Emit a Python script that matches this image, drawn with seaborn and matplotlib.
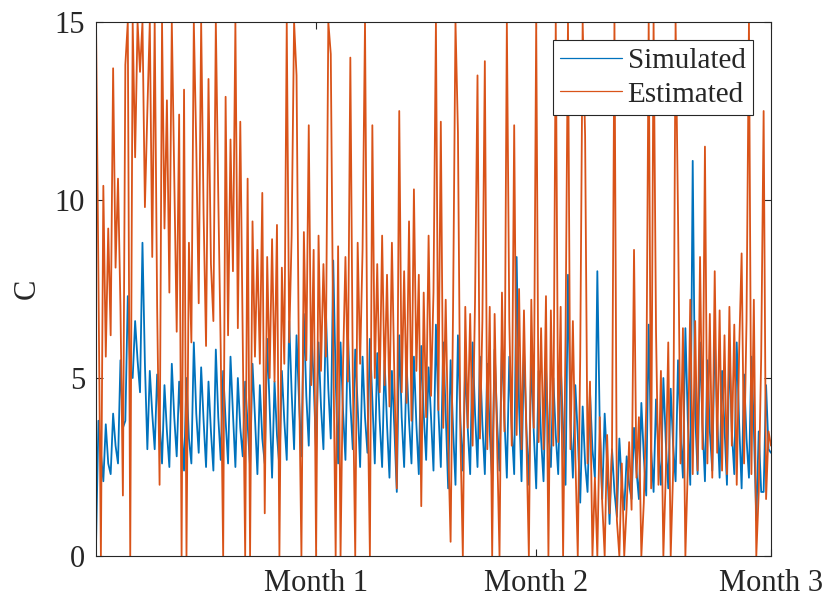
import matplotlib
matplotlib.use("Agg")
import matplotlib.pyplot as plt
import numpy as np
import pandas as pd
import seaborn as sns

# Three samples per day (trough / peak / mid)
SAMPLES_PER_DAY = 3

simulated = [
    0.3, 3.8, 2.9,  2.1, 3.7, 2.6,  2.3, 4.0, 3.1,  2.6, 5.5, 3.6,
    3.8, 7.3, 5.2,  5.0, 6.6, 5.5,  4.6, 8.8, 5.4,  3.0, 5.2, 4.0,
    3.0, 5.1, 3.8,  2.6, 4.8, 3.5,  2.5, 5.4, 3.9,  2.8, 4.9, 3.6,
    2.4, 5.0, 3.3,  2.6, 6.0, 4.0,  2.9, 5.3, 3.8,  2.5, 4.9, 3.5,
    2.4, 5.8, 3.9,  2.7, 5.2, 3.8,  2.6, 5.6, 4.0,  2.5, 5.0, 3.6,
    2.8, 4.9, 3.7,  2.5, 5.4, 3.9,  2.3, 4.8, 3.3,  2.6, 6.1, 4.2,
    2.2, 4.9, 3.4,  2.5, 5.2, 3.8,  2.7, 6.6, 4.6,  3.0, 6.2, 4.4,
    2.8, 6.8, 4.5,  3.1, 6.4, 4.9,  2.9, 6.0, 4.2,  3.0, 6.9, 4.7,
    3.3, 8.3, 5.0,  2.6, 6.0, 4.1,  2.7, 6.3, 4.3,  3.0, 5.8, 4.2,
    2.5, 5.6, 3.9,  2.9, 6.1, 4.4,  2.6, 5.7, 3.8,  2.5, 5.5, 3.7,
    2.2, 5.2, 3.6,  1.8, 6.2, 3.9,  2.5, 5.4, 3.8,  2.6, 5.6, 3.7,
    2.3, 5.9, 4.0,  2.7, 5.3, 3.9,  2.4, 6.5, 4.1,  2.5, 6.0, 4.0,
    1.9, 5.5, 3.6,  2.0, 6.2, 3.8,  2.4, 5.4, 3.6,  2.3, 6.0, 4.0,
    2.5, 5.6, 3.7,  2.3, 5.4, 3.5,  2.1, 5.8, 3.8,  2.4, 6.0, 3.9,
    2.2, 5.6, 3.6,  2.3, 8.4, 4.2,  2.1, 5.8, 3.6,  2.0, 5.6, 3.5,
    1.9, 5.2, 3.3,  2.1, 5.3, 3.4,  2.5, 5.0, 3.4,  2.3, 5.4, 3.6,
    2.0, 7.9, 3.8,  2.2, 4.8, 3.4,  1.5, 4.2, 2.6,  1.8, 4.6, 3.0,
    2.2, 8.0, 3.6,  1.6, 4.0, 2.6,  0.9, 3.0, 1.8,  1.1, 3.3, 2.0,
    1.3, 2.8, 2.0,  1.6, 3.6, 2.4,  1.6, 4.3, 2.8,  1.7, 6.5, 3.0,
    1.8, 4.4, 2.9,  2.0, 5.0, 3.2,  1.9, 4.7, 3.1,  2.1, 5.5, 3.5,
    2.2, 6.4, 3.8,  2.0, 11.1, 4.0, 2.3, 6.0, 3.7,  2.1, 5.5, 3.5,
    2.4, 6.2, 3.9,  2.2, 5.2, 3.6,  2.0, 5.8, 3.5,  2.3, 6.0, 3.7,
    1.9, 5.1, 3.3,  2.2, 5.6, 3.6,  1.0, 3.5, 1.8,  1.8, 4.8, 3.0,
    2.9,
]

estimated = [
    15.0, 7.8, 0.0,   10.4, 5.6, 9.2,   6.2, 13.7, 8.1,   10.6, 7.0, 1.7,
    13.8, 15.0, 0.0,  15.0, 11.2, 15.0, 13.6, 15.0, 9.8,  12.5, 15.0, 8.4,
    15.0, 7.0, 2.0,   15.0, 9.2, 12.8,  7.4, 15.0, 10.6,  6.3, 12.4, 0.0,
    13.1, 0.0, 8.8,   6.0, 15.0, 11.5,  7.1, 15.0, 9.6,   5.9, 13.4, 8.2,
    6.6, 15.0, 10.1,  5.8, 0.0, 12.9,   6.2, 11.7, 8.0,   15.0, 6.4, 12.2,
    6.0, 0.0, 10.6,   0.0, 9.4, 5.6,    8.6, 5.4, 10.2,   1.2, 8.4, 5.0,
    8.9, 4.9, 9.3,    0.0, 8.1, 5.4,    15.0, 6.0, 9.0,   15.0, 13.5, 5.2,
    0.0, 9.1, 5.5,    12.1, 4.8, 8.6,   0.0, 9.0, 5.2,    8.2, 5.6, 15.0,
    14.1, 6.0, 0.0,   8.7, 0.0, 5.3,    8.4, 4.9, 14.0,   5.1, 0.0, 8.8,
    5.4, 8.6, 15.0,   4.9, 0.0, 12.1,   5.0, 8.2, 4.6,    9.0, 4.8, 7.9,
    4.2, 8.8, 5.0,    1.9, 12.5, 4.6,   8.0, 4.3, 9.4,    3.8, 10.3, 5.2,
    7.9, 1.4, 7.4,    3.9, 9.0, 4.5,    7.4, 15.0, 4.1,   12.2, 3.6, 7.2,
    3.2, 0.4, 6.9,    15.0, 11.9, 3.4,  0.0, 7.0, 3.6,    6.8, 3.1, 7.2,
    13.5, 3.3, 6.6,   13.9, 3.0, 7.0,   0.0, 6.8, 3.2,    0.0, 7.4, 3.5,
    15.0, 6.6, 3.1,   12.1, 3.4, 7.5,   3.0, 6.9, 3.3,    0.0, 7.2, 3.6,
    15.0, 3.2, 6.4,   3.0, 7.3, 0.0,    6.9, 3.1, 15.0,   3.2, 7.0, 0.0,
    6.2, 15.0, 3.0,   6.6, 2.8, 0.0,    5.6, 15.0, 11.8,  2.6, 4.9, 0.0,
    2.2, 0.0, 3.9,    1.5, 0.0, 3.4,    1.2, 3.0, 15.0,   1.0, 0.0, 2.6,
    0.0, 1.4, 3.2,    1.3, 8.6, 2.2,    3.9, 0.0, 1.5,    4.2, 15.0, 1.9,
    15.0, 6.3, 2.0,   5.2, 0.0, 2.3,    6.0, 0.0, 2.4,    15.0, 9.5, 2.6,
    6.4, 0.0, 2.5,    7.2, 2.3, 6.6,    2.4, 8.4, 3.0,    11.5, 2.6, 6.8,
    2.2, 8.0, 2.9,    6.9, 2.4, 6.2,    2.3, 7.0, 3.1,    6.5, 2.0, 5.8,
    8.5, 2.6, 6.6,    15.0, 2.3, 7.2,   0.0, 1.8, 5.6,    12.5, 1.6, 3.5,
    3.1,
]

month_ticks = [30, 60, 92]
month_labels = ["Month 1", "Month 2", "Month 3"]

BLUE = "#0072BD"
ORANGE = "#D95319"

sns.set_theme(style="ticks")
plt.rcParams["font.family"] = ["Liberation Serif", "DejaVu Serif"]

days = np.arange(len(simulated)) / SAMPLES_PER_DAY
df = pd.concat([
    pd.DataFrame({"t": days, "C": simulated, "series": "Simulated"}),
    pd.DataFrame({"t": days, "C": estimated, "series": "Estimated"}),
])

fig = plt.figure(figsize=(8.29, 6.03), dpi=100)
ax = fig.add_axes([0.1158, 0.0779, 0.8142, 0.8856])

sns.lineplot(
    data=df, x="t", y="C", hue="series",
    palette={"Simulated": BLUE, "Estimated": ORANGE},
    estimator=None, sort=False, linewidth=1.3, ax=ax,
)

ax.set_xlim(0, 92)
ax.set_ylim(0, 15)
ax.set_xticks(month_ticks)
ax.set_xticklabels(month_labels)
ax.set_yticks([0, 5, 10, 15])
ax.set_xlabel("")
ax.set_ylabel("C", fontsize=22, labelpad=9)

for side in ["top", "right", "bottom", "left"]:
    ax.spines[side].set_visible(True)
    ax.spines[side].set_color("#262626")
    ax.spines[side].set_linewidth(0.8)
ax.tick_params(axis="both", direction="in", length=5, width=0.8,
               colors="#262626", labelsize=22, top=True, right=True)
ax.tick_params(axis="x", pad=9, labelcolor="#262626")
ax.tick_params(axis="y", pad=8, labelcolor="#262626")

handles, labels = ax.get_legend_handles_labels()
leg = ax.legend(
    handles=handles, labels=labels,
    loc="upper right", bbox_to_anchor=(0.973, 0.966), borderaxespad=0,
    fontsize=21, frameon=True, fancybox=False, edgecolor="#262626",
    framealpha=1, handlelength=2.1, handletextpad=0.2,
    labelspacing=0.25, borderpad=0.25,
)
leg.get_frame().set_linewidth(0.8)
for line in leg.get_lines():
    line.set_linewidth(0.9)

fig.savefig("out.png", dpi=100)
